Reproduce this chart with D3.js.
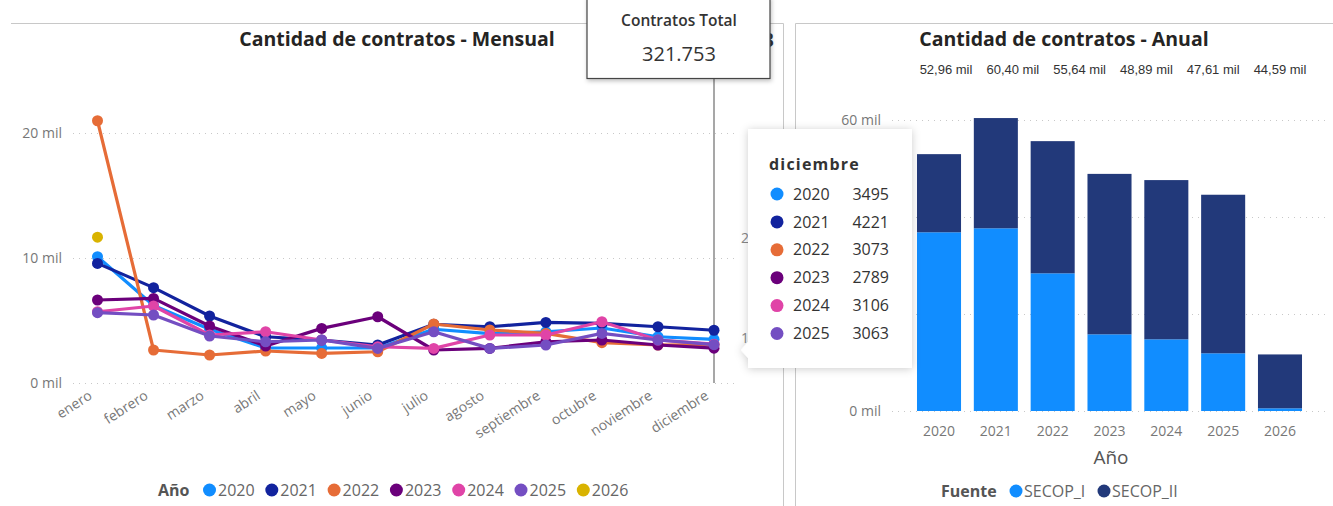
<!DOCTYPE html>
<html>
<head>
<meta charset="utf-8">
<script src="https://cdn.jsdelivr.net/npm/d3@7"></script>
<style>
  html, body { margin: 0; padding: 0; background: #fff; }
  svg { display: block; font-family: "Open Sans", "Noto Sans", sans-serif; }
</style>
</head>
<body>
<svg id="chart" width="1333" height="506"></svg>
<script>
// ---- Monthly contracts per year ----
const months = ["enero", "febrero", "marzo", "abril", "mayo", "junio", "julio",
                "agosto", "septiembre", "octubre", "noviembre", "diciembre"];
const years = ["2020", "2021", "2022", "2023", "2024", "2025", "2026"];
const yearColors = ["#118DFF", "#12239E", "#E66C37", "#6B007B", "#E044A7", "#744EC2", "#D9B300"];

const monthly2020 = [10100, 6200, 4300, 2800, 2800, 2800, 4300, 3950, 4100, 4400, 3700, 3495];
const monthly2021 = [9570, 7630, 5360, 3700, 3440, 3040, 4700, 4500, 4850, 4770, 4500, 4221];
const monthly2022 = [20980, 2640, 2240, 2560, 2370, 2500, 4720, 4240, 3970, 3230, 3040, 3073];
const monthly2023 = [6640, 6770, 4560, 2960, 4370, 5300, 2640, 2770, 3300, 3440, 3040, 2789];
const monthly2024 = [5700, 6160, 3840, 4100, 3440, 2900, 2770, 3840, 3840, 4900, 3440, 3106];
const monthly2025 = [5630, 5440, 3760, 3300, 3440, 2770, 4100, 2770, 3040, 3970, 3440, 3063];
const monthly2026 = [11663];

const monthlyTicks = [0, 10000, 20000];

// ---- Yearly contracts by source ----
const sources = ["SECOP_I", "SECOP_II"];
const sourceColors = ["#118DFF", "#22397A"];
const secopI  = [36850, 37670, 28390, 15810, 14780, 11900, 560];
const secopII = [16110, 22730, 27250, 33080, 32830, 32690, 11103];
const yearlyTicks = [0, 20000, 40000, 60000];
const yearlyTickLabels = [0, 60000];   // the middle labels sit under the tooltip

// ---- Hover detail ----
const hoverMonth = "diciembre";

const monthlySeries = [monthly2020, monthly2021, monthly2022, monthly2023,
                       monthly2024, monthly2025, monthly2026].map((vals, i) => ({
  year: years[i], color: yearColors[i],
  points: vals.map((v, j) => ({ month: months[j], value: v }))
}));

const yearly = years.map((y, i) => ({ year: y, SECOP_I: secopI[i], SECOP_II: secopII[i] }));
yearly.forEach(d => d.total = d.SECOP_I + d.SECOP_II);

const esLocale = d3.formatLocale({ decimal: ",", thousands: ".", grouping: [3], currency: ["", ""] });
const fmtThousands = esLocale.format(",");
const fmtMil = v => esLocale.format(",.2f")(v / 1000) + " mil";
const fmtAxis = v => (v / 1000) + " mil";

const svg = d3.select("#chart");

const defs = svg.append("defs");
const sh = defs.append("filter").attr("id", "shadow")
  .attr("x", "-20%").attr("y", "-20%").attr("width", "140%").attr("height", "140%");
sh.append("feDropShadow").attr("dx", 0).attr("dy", 1).attr("stdDeviation", 4)
  .attr("flood-color", "#000").attr("flood-opacity", 0.2);
const sh2 = defs.append("filter").attr("id", "cardShadow")
  .attr("x", "-20%").attr("y", "-20%").attr("width", "140%").attr("height", "140%");
sh2.append("feDropShadow").attr("dx", 1).attr("dy", 2).attr("stdDeviation", 2)
  .attr("flood-color", "#000").attr("flood-opacity", 0.25);

// ---- Panel frames ----
svg.append("line").attr("x1", 11).attr("x2", 783.5).attr("y1", 23.5).attr("y2", 23.5)
  .attr("stroke", "#c8c8c8");
svg.append("line").attr("x1", 783.5).attr("x2", 783.5).attr("y1", 23.5).attr("y2", 506)
  .attr("stroke", "#c8c8c8");
svg.append("line").attr("x1", 795.5).attr("x2", 1333).attr("y1", 23.5).attr("y2", 23.5)
  .attr("stroke", "#c8c8c8");
svg.append("line").attr("x1", 795.5).attr("x2", 795.5).attr("y1", 23.5).attr("y2", 506)
  .attr("stroke", "#c8c8c8");

// ================= Monthly line chart =================
const xM = d3.scalePoint().domain(months).range([97.5, 714]);
const yM = d3.scaleLinear().domain([0, 20000]).range([383, 133]);

const left = svg.append("g");
left.append("text").attr("x", 397).attr("y", 46).attr("text-anchor", "middle")
  .attr("font-size", 19.5).attr("font-weight", 700).attr("fill", "#252423")
  .text("Cantidad de contratos - Mensual");

// gridlines
left.append("g").selectAll("line").data(monthlyTicks).join("line")
  .attr("x1", 73).attr("x2", 735)
  .attr("y1", d => yM(d) + 0.5).attr("y2", d => yM(d) + 0.5)
  .attr("stroke", "#c8c8c8").attr("stroke-dasharray", "1,5");

// y axis
const yAxisM = left.append("g").attr("transform", "translate(62,0)")
  .call(d3.axisLeft(yM).tickValues(monthlyTicks).tickFormat(fmtAxis).tickSize(0).tickPadding(0));
yAxisM.select(".domain").remove();
yAxisM.selectAll("text").attr("font-size", 14).attr("fill", "#777")
  .attr("font-family", "\"Open Sans\", sans-serif");

// x axis
const xAxisM = left.append("g").attr("transform", "translate(0,383)")
  .call(d3.axisBottom(xM).tickSize(0).tickPadding(0));
xAxisM.select(".domain").remove();
xAxisM.selectAll("text")
  .attr("font-size", 14).attr("fill", "#777").attr("font-family", "\"Open Sans\", sans-serif")
  .attr("text-anchor", "end").attr("dy", 0).attr("y", 0)
  .attr("transform", "translate(-5,15) rotate(-33)");

// hover line
left.append("line").attr("x1", xM(hoverMonth)).attr("x2", xM(hoverMonth))
  .attr("y1", 78).attr("y2", 383).attr("stroke", "#8a8a8a").attr("stroke-width", 1.5);

// series
const lineGen = d3.line().x(d => xM(d.month)).y(d => yM(d.value));
const seriesG = left.append("g").selectAll("g").data(monthlySeries).join("g");
seriesG.append("path")
  .attr("d", d => lineGen(d.points))
  .attr("fill", "none").attr("stroke", d => d.color)
  .attr("stroke-width", 3.2).attr("stroke-linejoin", "round");
seriesG.selectAll("circle").data(d => d.points.map(p => ({ ...p, color: d.color }))).join("circle")
  .attr("cx", d => xM(d.month)).attr("cy", d => yM(d.value)).attr("r", 5.5)
  .attr("fill", d => d.color);

// legend
const legM = left.append("g").attr("transform", "translate(0,490)");
legM.append("text").attr("x", 158).attr("y", 0).attr("dy", "0.35em")
  .attr("font-size", 16).attr("font-weight", 700).attr("fill", "#555").text("Año");
const legItems = legM.selectAll("g.item").data(years).join("g").attr("class", "item")
  .attr("transform", (d, i) => `translate(${209.5 + i * 62.3},0)`);
legItems.append("circle").attr("r", 6.5).attr("fill", (d, i) => yearColors[i]);
legItems.append("text").attr("x", 8.5).attr("dy", "0.35em").attr("font-size", 16)
  .attr("fill", "#666").text(d => d);

// ================= Yearly stacked bars =================
const xY = d3.scaleBand().domain(years).range([910.6, 1308.4])
  .paddingInner(0.225).paddingOuter(0.1125);
const yY = d3.scaleLinear().domain([0, 60000]).range([411, 120]);

const right = svg.append("g");
right.append("text").attr("x", 1064).attr("y", 46).attr("text-anchor", "middle")
  .attr("font-size", 19.5).attr("font-weight", 700).attr("fill", "#252423")
  .text("Cantidad de contratos - Anual");

right.append("g").selectAll("line").data(yearlyTicks).join("line")
  .attr("x1", 892).attr("x2", 1326)
  .attr("y1", d => yY(d) + 0.5).attr("y2", d => yY(d) + 0.5)
  .attr("stroke", "#c8c8c8").attr("stroke-dasharray", "1,5");

const yAxisY = right.append("g").attr("transform", "translate(881,0)")
  .call(d3.axisLeft(yY).tickValues(yearlyTickLabels).tickFormat(fmtAxis).tickSize(0).tickPadding(0));
yAxisY.select(".domain").remove();
yAxisY.selectAll("text").attr("font-size", 14).attr("fill", "#777")
  .attr("font-family", "\"Open Sans\", sans-serif");

const stack = d3.stack().keys(sources)(yearly);
right.append("g").selectAll("g").data(stack).join("g")
  .attr("fill", (d, i) => sourceColors[i])
  .selectAll("rect").data(d => d).join("rect")
  .attr("x", d => xY(d.data.year)).attr("width", xY.bandwidth())
  .attr("y", d => yY(d[1])).attr("height", d => yY(d[0]) - yY(d[1]));

const xAxisY = right.append("g").attr("transform", "translate(0,411)")
  .call(d3.axisBottom(xY).tickSize(0).tickPadding(15));
xAxisY.select(".domain").remove();
xAxisY.selectAll("text").attr("font-size", 14).attr("fill", "#777")
  .attr("font-family", "\"Open Sans\", sans-serif");

right.append("text").attr("x", 1111).attr("y", 457).attr("dy", "0.35em")
  .attr("text-anchor", "middle").attr("font-size", 19).attr("fill", "#555").text("Año");

// total labels strip
const labelYears = yearly.filter(d => d.year !== "2026");
const xLab = d3.scalePoint().domain(labelYears.map(d => d.year)).range([946, 1280]);
right.append("g").selectAll("text").data(labelYears).join("text")
  .attr("x", d => xLab(d.year)).attr("y", 69).attr("dy", "0.35em")
  .attr("text-anchor", "middle").attr("font-size", 13)
  .attr("font-family", "\"Liberation Sans\", Arial, sans-serif").attr("fill", "#333")
  .text(d => fmtMil(d.total));

// legend
const legY = right.append("g").attr("transform", "translate(0,491)");
legY.append("text").attr("x", 941).attr("dy", "0.35em").attr("font-size", 16)
  .attr("font-weight", 700).attr("fill", "#555").text("Fuente");
const legS = legY.selectAll("g.item").data(sources).join("g").attr("class", "item")
  .attr("transform", (d, i) => `translate(${[1016, 1104][i]},0)`);
legS.append("circle").attr("r", 6.5).attr("fill", (d, i) => sourceColors[i]);
legS.append("text").attr("x", 8).attr("dy", "0.35em").attr("font-size", 16)
  .attr("fill", "#666").text(d => d);

// fragments of neighbouring labels peeking out
svg.append("text").attr("x", 741).attr("y", 243).attr("font-size", 14).attr("fill", "#888").text("2");
svg.append("text").attr("x", 741).attr("y", 343).attr("font-size", 14).attr("fill", "#888").text("1");
svg.append("text").attr("x", 763).attr("y", 47).attr("font-size", 19).attr("font-weight", 700)
  .attr("fill", "#333").text("3");

// ================= KPI card =================
const grandTotal = d3.sum(yearly, d => d.total);
const card = svg.append("g");
card.append("rect").attr("x", 587).attr("y", -3).attr("width", 183).attr("height", 81.5)
  .attr("fill", "#fff").attr("stroke", "#444").attr("stroke-width", 1.2)
  .attr("filter", "url(#cardShadow)");
card.append("text").attr("x", 679).attr("y", 21).attr("dy", "0.35em").attr("text-anchor", "middle")
  .attr("font-size", 15.5).attr("font-weight", 600).attr("fill", "#333").text("Contratos Total");
card.append("text").attr("x", 679).attr("y", 54).attr("dy", "0.35em").attr("text-anchor", "middle")
  .attr("font-size", 20).attr("fill", "#333").text(fmtThousands(grandTotal));

// ================= Tooltip =================
const tipRows = monthlySeries.filter(s => s.points.length === months.length)
  .map(s => ({ year: s.year, color: s.color, value: s.points.find(p => p.month === hoverMonth).value }));
const tip = svg.append("g");
tip.append("path")
  .attr("d", "M748,129 H912 V368 H748 V358 L741,350 L748,342 Z")
  .attr("fill", "#fff").attr("filter", "url(#shadow)");
tip.append("text").attr("x", 769).attr("y", 164).attr("dy", "0.35em")
  .attr("font-size", 16).attr("font-weight", 700).attr("letter-spacing", 1.2)
  .attr("fill", "#333").text(hoverMonth);
const rows = tip.selectAll("g.row").data(tipRows).join("g").attr("class", "row")
  .attr("transform", (d, i) => `translate(0,${194 + i * 27.9})`);
rows.append("circle").attr("cx", 777).attr("r", 6.5).attr("fill", d => d.color);
rows.append("text").attr("x", 793).attr("dy", "0.35em").attr("font-size", 16)
  .attr("fill", "#333").text(d => d.year);
rows.append("text").attr("x", 889).attr("dy", "0.35em").attr("text-anchor", "end")
  .attr("font-size", 16).attr("fill", "#333").text(d => d.value);
</script>
</body>
</html>
